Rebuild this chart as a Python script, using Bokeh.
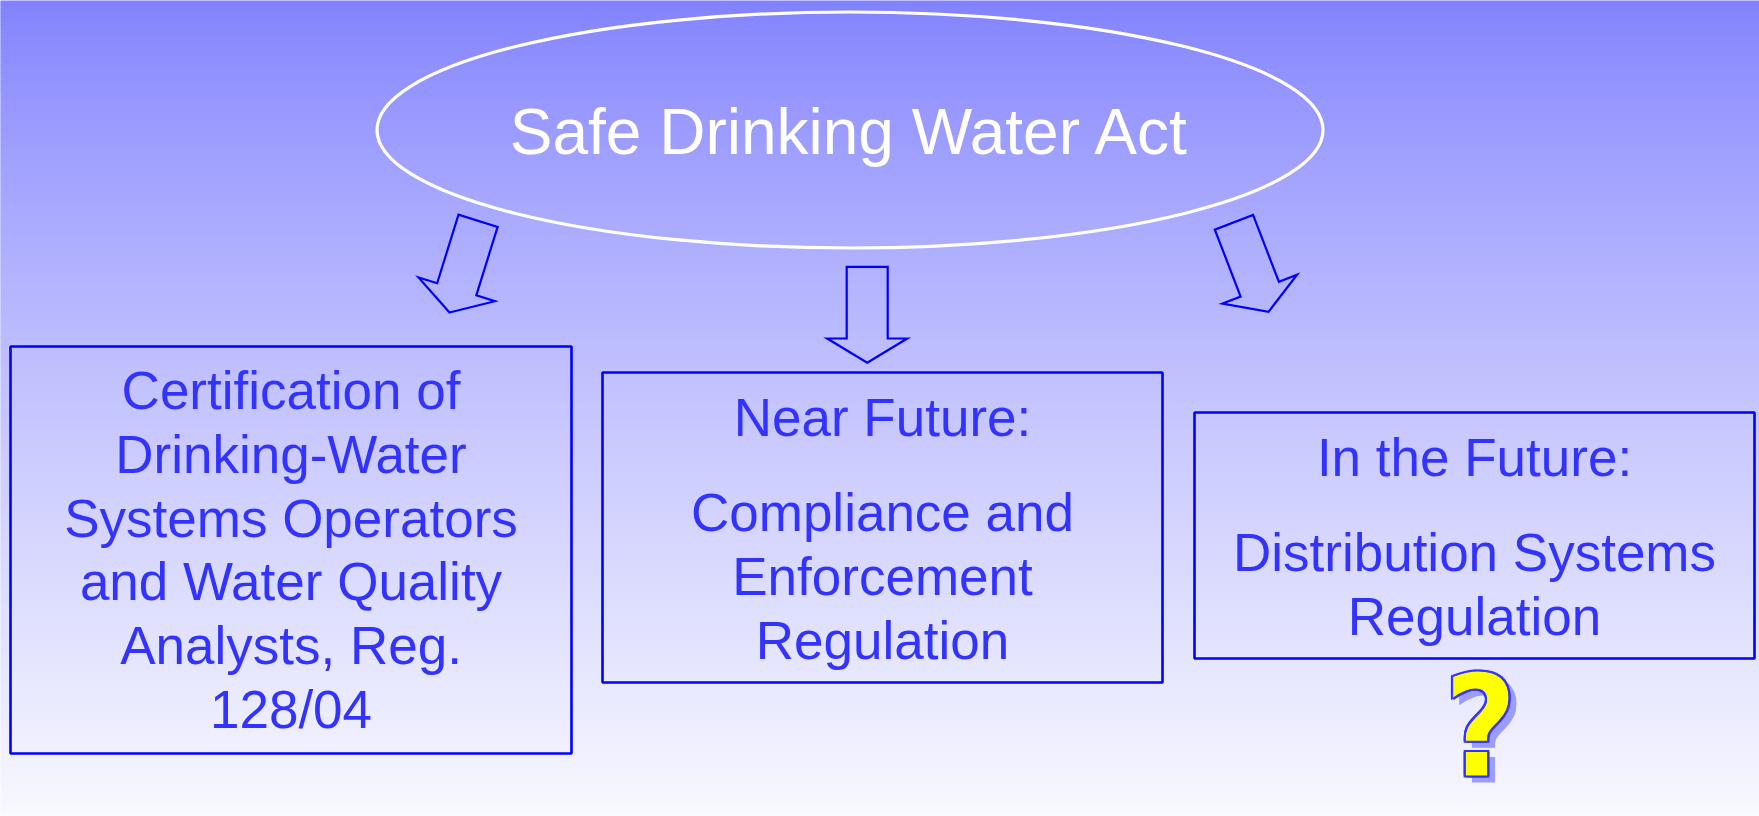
import numpy as np
from bokeh.plotting import figure
from bokeh.models import ColumnDataSource
from bokeh.core.properties import value
from bokeh.embed import file_html
from bokeh.resources import INLINE

# ---------------- content ----------------
title_text = "Safe Drinking Water Act"
box_paragraphs = [
    [["Certification of", "Drinking-Water", "Systems Operators",
      "and Water Quality", "Analysts, Reg.", "128/04"]],
    [["Near Future:"], ["Compliance and", "Enforcement", "Regulation"]],
    [["In the Future:"], ["Distribution Systems", "Regulation"]],
]
mark_text = "?"

# ---------------- layout (page pixels, y downward) ----------------
W, H = 1759, 816
box_left = [10, 602, 1194]
box_right = [571, 1162, 1754]
box_top = [346, 372, 412]
box_bottom = [753, 682, 658]
first_baseline = [409.3, 436.0, 476.0]
line_step = 63.8
para_gap = 32.0

ell_cx, ell_cy, ell_w, ell_h = 849.5, 129.5, 946, 236
title_baseline = 155

arrow_tip_x = [449.0, 866.7, 1268.0]
arrow_tip_y = [312.0, 362.3, 311.3]
arrow_tilt = [-17.3, 0.0, 21.1]
ARROW_LEN, SHAFT_W, HEAD_W, HEAD_LEN = 96.0, 41.0, 80.0, 24.3

BLUE = "#0000FF"
TEXT_BLUE = "#3333FF"
FONT = "Liberation Sans"
BASE_SHIFT = 0.365  # em: correction of the renderer's baseline placement

TITLE_SIZE = 64
BOX_SIZE = 53

p = figure(width=W, height=H,
           x_range=(0, W), y_range=(H, 0),
           output_backend="svg", toolbar_location=None,
           x_axis_type=None, y_axis_type=None,
           min_border=0, outline_line_color=None,
           border_fill_color="#F4F4FF")
p.grid.visible = False

# ---------------- background gradient ----------------
n_bands = 408
edges = np.linspace(0, H, n_bands + 1)
mids = (edges[:-1] + edges[1:]) / 2
t = (mids / H) ** 0.8
r = 128 + (248 - 128) * t
cols = ["#%02x%02x%02x" % (int(round(v)), int(round(v)), 255) for v in r]
p.quad(left=-2, right=W + 2, top=edges[:-1] - 0.6, bottom=edges[1:] + 0.6,
       fill_color=cols, line_color=None)

# ---------------- ellipse & title ----------------
p.ellipse(x=[ell_cx], y=[ell_cy], width=[ell_w], height=[ell_h],
          fill_alpha=0, line_color="white", line_width=3.2)
p.text(x=[ell_cx], y=[title_baseline - BASE_SHIFT * TITLE_SIZE], text=[title_text],
       text_color="white", text_font=value(FONT), text_font_size=f"{TITLE_SIZE}px",
       text_align="center", text_baseline="alphabetic")

# ---------------- arrows ----------------
shape_u = [0, HEAD_W / 2, SHAFT_W / 2, SHAFT_W / 2, -SHAFT_W / 2, -SHAFT_W / 2, -HEAD_W / 2]
shape_v = [0, -HEAD_LEN, -HEAD_LEN, -ARROW_LEN, -ARROW_LEN, -HEAD_LEN, -HEAD_LEN]
axs, ays = [], []
for tx, ty, th in zip(arrow_tip_x, arrow_tip_y, arrow_tilt):
    a = np.radians(th)
    d = np.array([np.sin(a), np.cos(a)])
    n = np.array([np.cos(a), -np.sin(a)])
    pts = [np.array([tx, ty]) + v * d + u * n for u, v in zip(shape_u, shape_v)]
    axs.append([q[0] for q in pts])
    ays.append([q[1] for q in pts])
p.patches(xs=axs, ys=ays, fill_alpha=0, line_color=BLUE, line_width=2.2,
          line_join="miter")

# ---------------- boxes ----------------
p.quad(left=box_left, right=box_right, top=box_top, bottom=box_bottom,
       fill_alpha=0, line_color=BLUE, line_width=2.6)

tx_, ty_, tt_ = [], [], []
for i, paras in enumerate(box_paragraphs):
    cx = (box_left[i] + box_right[i]) / 2
    y = first_baseline[i]
    for j, para in enumerate(paras):
        if j > 0:
            y += para_gap
        for line in para:
            tx_.append(cx)
            ty_.append(y - BASE_SHIFT * BOX_SIZE)
            tt_.append(line)
            y += line_step
src = ColumnDataSource(dict(x=tx_, y=ty_, text=tt_))
p.text(x="x", y="y", text="text", source=src, text_color=TEXT_BLUE,
       text_font=value(FONT), text_font_size=f"{BOX_SIZE}px",
       text_align="center", text_baseline="alphabetic")

# ---------------- question mark ----------------
Q_SIZE = 140
Q_FONT = "'Liberation Sans Narrow', 'DejaVu Sans Condensed', 'Liberation Sans'"
qx, qy = 1480, 778 - BASE_SHIFT * Q_SIZE
qstyle = dict(text_font=value(Q_FONT), text_font_size=f"{Q_SIZE}px",
              text_font_style="bold", text_align="center", text_baseline="alphabetic")
p.text(x=[qx], y=[qy], text=[mark_text], x_offset=7, y_offset=6,
       text_color="#9C9CFF", text_outline_color="#9C9CFF", **qstyle)
for ox, oy in [(-1.2, -1.2), (1.2, -1.2), (-1.2, 1.2), (1.2, 1.2)]:
    p.text(x=[qx], y=[qy], text=[mark_text], x_offset=ox, y_offset=oy,
           text_color="#3333FF", text_outline_color="#3333FF", **qstyle)
p.text(x=[qx], y=[qy], text=[mark_text], text_color="#FFFF00",
       text_outline_color="#3333FF", **qstyle)

open("out.html", "w").write(file_html(p, INLINE))
